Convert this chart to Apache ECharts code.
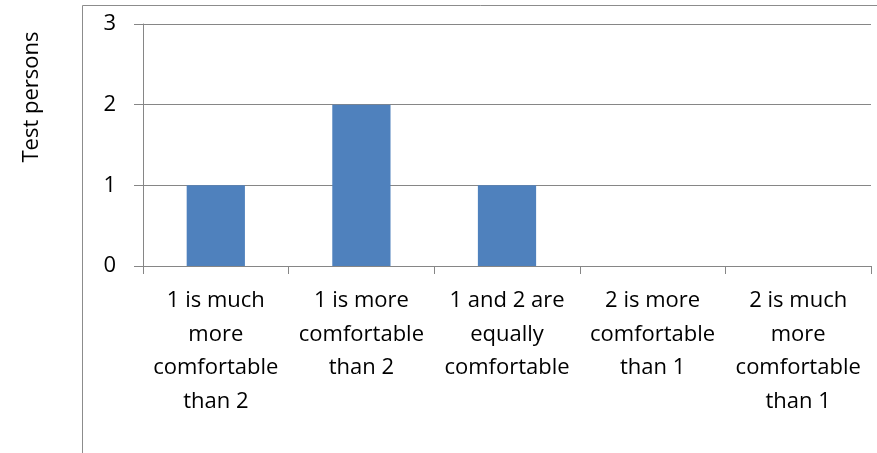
<!DOCTYPE html>
<html>
<head>
<meta charset="utf-8">
<script src="https://cdn.jsdelivr.net/npm/echarts@6/dist/echarts.min.js"></script>
<style>
  html, body { margin: 0; padding: 0; background: #fff; }
  #chart { width: 877px; height: 453px; }
</style>
</head>
<body>
<div id="chart"></div>
<script>
// answers to "which one is more comfortable"
const categories = [
  '1 is much\nmore\ncomfortable\nthan 2',
  '1 is more\ncomfortable\nthan 2',
  '1 and 2 are\nequally\ncomfortable',
  '2 is more\ncomfortable\nthan 1',
  '2 is much\nmore\ncomfortable\nthan 1'
]
const testPersons = [1, 2, 1, 0, 0]
const yTicks = [0, 1, 2, 3]

const font = '"Open Sans", "Liberation Sans", sans-serif'
const axisGray = '#868686'

const chart = echarts.init(document.getElementById('chart'))

chart.setOption({
  animation: false,
  grid: { left: 143, right: 6, top: 24, bottom: 187 },
  graphic: [
    {
      type: 'rect',
      shape: { x: 82.5, y: 5.5, width: 900, height: 600 },
      style: { fill: 'none', stroke: '#8c8c8c', lineWidth: 1 },
      silent: true
    },
    {
      type: 'text',
      x: 32, y: 97,
      rotation: Math.PI / 2,
      style: {
        text: 'Test persons',
        font: '22px ' + font,
        fill: '#000',
        align: 'center',
        verticalAlign: 'middle'
      }
    }
  ],
  xAxis: {
    type: 'category',
    data: categories,
    axisLine: { lineStyle: { color: axisGray, width: 1 } },
    axisTick: { show: true, length: 8, alignWithLabel: false, lineStyle: { color: axisGray } },
    axisLabel: {
      interval: 0,
      color: '#000',
      fontFamily: font,
      fontSize: 22,
      lineHeight: 33.5,
      margin: 18
    }
  },
  yAxis: {
    type: 'value',
    min: yTicks[0],
    max: yTicks[yTicks.length - 1],
    interval: 1,
    axisLine: { show: true, lineStyle: { color: axisGray } },
    axisTick: { show: true, length: 9, lineStyle: { color: axisGray } },
    splitLine: { lineStyle: { color: axisGray, width: 1 } },
    axisLabel: { color: '#000', fontFamily: font, fontSize: 22, margin: 27 }
  },
  series: [{
    type: 'bar',
    data: testPersons,
    barWidth: '40%',
    itemStyle: { color: '#4F81BD' }
  }]
})
</script>
</body>
</html>
